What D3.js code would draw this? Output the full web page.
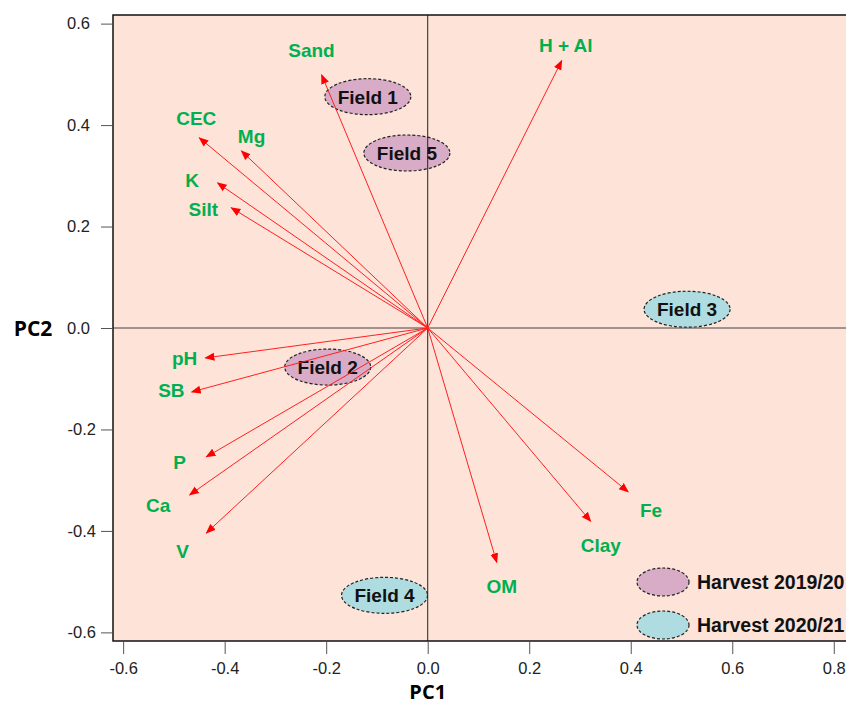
<!-- PCA biplot: soil attributes vs fields -->
<!DOCTYPE html>
<html>
<head>
<meta charset="utf-8">
<style>
  body { margin: 0; background: #fff; }
  svg { display: block; font-family: "Liberation Sans", Arial, sans-serif; }
</style>
</head>
<body>
<svg width="846" height="704"></svg>
<script src="https://d3js.org/d3.v7.min.js"></script>
<script>
// loadings (arrow tips)
const vars   = ["Sand", "H + Al", "CEC", "Mg", "K", "Silt", "pH", "SB", "P", "Ca", "V", "OM", "Clay", "Fe"];
const pc1    = [-0.209, 0.264, -0.450, -0.367, -0.414, -0.387, -0.438, -0.465, -0.436, -0.469, -0.436, 0.136, 0.321, 0.395];
const pc2    = [0.499, 0.527, 0.375, 0.349, 0.286, 0.237, -0.059, -0.126, -0.254, -0.329, -0.404, -0.462, -0.381, -0.323];
// where each variable name sits (in PC units)
const labPc1 = [-0.229, 0.272, -0.456, -0.347, -0.464, -0.442, -0.479, -0.505, -0.489, -0.531, -0.483, 0.146, 0.341, 0.440];
const labPc2 = [0.548, 0.558, 0.414, 0.379, 0.292, 0.235, -0.059, -0.122, -0.264, -0.349, -0.440, -0.509, -0.428, -0.359];

// field scores
const fields    = ["Field 1", "Field 5", "Field 3", "Field 2", "Field 4"];
const fieldPc1  = [-0.118, -0.041, 0.511, -0.197, -0.085];
const fieldPc2  = [0.456, 0.345, 0.037, -0.077, -0.527];
const fieldYear = ["Harvest 2019/20", "Harvest 2019/20", "Harvest 2020/21", "Harvest 2019/20", "Harvest 2020/21"];

const harvests = ["Harvest 2019/20", "Harvest 2020/21"];
const xTicks = [-0.6, -0.4, -0.2, 0.0, 0.2, 0.4, 0.6, 0.8];
const yTicks = [-0.6, -0.4, -0.2, 0.0, 0.2, 0.4, 0.6];

const svg = d3.select("svg");
const pLeft = 113, pTop = 15, pBottom = 641, pRight = 849;

const x = d3.scaleLinear().domain([-0.62, 0.83]).range([pLeft, pRight]);
const y = d3.scaleLinear().domain([-0.617, 0.617]).range([pBottom, pTop]);
const color = d3.scaleOrdinal().domain(harvests).range(["#d8abc7", "#afdce0"]);
const fmt = d => (Math.abs(d) < 1e-9 ? 0 : d).toFixed(1);

// panel
svg.append("rect").attr("x", pLeft).attr("y", pTop)
  .attr("width", pRight - pLeft).attr("height", pBottom - pTop)
  .attr("fill", "#fde3d8");

// field ellipses
const fg = svg.append("g").selectAll("g").data(fields).join("g")
  .attr("transform", (d, i) => `translate(${x(fieldPc1[i])},${y(fieldPc2[i])})`);
fg.append("ellipse").attr("rx", 43).attr("ry", 18)
  .attr("fill", (d, i) => color(fieldYear[i]))
  .attr("stroke", "#222").attr("stroke-width", 1.2).attr("stroke-dasharray", "3,2");
fg.append("text").text(d => d)
  .attr("text-anchor", "middle").attr("dy", "0.36em")
  .attr("font-size", 19).attr("font-weight", "bold").attr("fill", "#111");

// zero lines
svg.append("line").attr("x1", x(0)).attr("x2", x(0)).attr("y1", pTop).attr("y2", pBottom)
  .attr("stroke", "#222").attr("stroke-width", 1);
svg.append("line").attr("x1", pLeft).attr("x2", pRight).attr("y1", y(0)).attr("y2", y(0))
  .attr("stroke", "#444").attr("stroke-width", 1);

// arrows
svg.append("defs").append("marker")
  .attr("id", "head").attr("viewBox", "0 0 10 10")
  .attr("refX", 9).attr("refY", 5)
  .attr("markerWidth", 10).attr("markerHeight", 10)
  .attr("markerUnits", "userSpaceOnUse")
  .attr("orient", "auto")
  .append("path").attr("d", "M0,1 L10,5 L0,9 Z").attr("fill", "#ff0000");

svg.append("g").selectAll("line").data(vars).join("line")
  .attr("x1", x(0)).attr("y1", y(0))
  .attr("x2", (d, i) => x(pc1[i])).attr("y2", (d, i) => y(pc2[i]))
  .attr("stroke", "#ff2020").attr("stroke-width", 1)
  .attr("marker-end", "url(#head)");

svg.append("g").selectAll("text").data(vars).join("text")
  .attr("x", (d, i) => x(labPc1[i])).attr("y", (d, i) => y(labPc2[i]))
  .attr("text-anchor", "middle").attr("dy", "0.36em")
  .attr("font-size", 19).attr("font-weight", "bold").attr("fill", "#00b050")
  .text(d => d);

// legend
const lg = svg.append("g").selectAll("g").data(harvests).join("g")
  .attr("transform", (d, i) => `translate(663,${582 + i * 43})`);
lg.append("ellipse").attr("rx", 26).attr("ry", 14)
  .attr("fill", d => color(d))
  .attr("stroke", "#222").attr("stroke-width", 1.2).attr("stroke-dasharray", "3,2");
lg.append("text").attr("x", 34).attr("dy", "0.36em")
  .attr("font-size", 19.5).attr("font-weight", "bold").attr("fill", "#111")
  .text(d => d);

// frame
svg.append("path")
  .attr("d", `M${pRight},${pTop} H${pLeft} V${pBottom} H${pRight}`)
  .attr("fill", "none").attr("stroke", "#111").attr("stroke-width", 1.5);

// axes
const ax = svg.append("g").attr("transform", `translate(0,${pBottom + 1})`)
  .call(d3.axisBottom(x).tickValues(xTicks).tickFormat(fmt).tickSize(12).tickPadding(8));
const ay = svg.append("g").attr("transform", `translate(${pLeft - 1},0)`)
  .call(d3.axisLeft(y).tickValues(yTicks).tickFormat(fmt).tickSize(11).tickPadding(8));
[ax, ay].forEach(g => {
  g.select(".domain").remove();
  g.selectAll(".tick line").attr("stroke", "#555");
  g.selectAll(".tick text").attr("font-size", 16.5).attr("fill", "#222")
    .attr("font-family", "'Liberation Sans', Arial, sans-serif");
});
ay.selectAll(".tick text").attr("dx", d => d < 0 ? 3 : -3);

// axis titles
svg.append("text").attr("x", x(0)).attr("y", 699)
  .attr("text-anchor", "middle").attr("font-size", 20).attr("font-weight", "bold")
  .attr("font-family", "'Open Sans', sans-serif").text("PC1");
svg.append("text").attr("x", 33).attr("y", y(0)).attr("dy", "0.36em")
  .attr("text-anchor", "middle").attr("font-size", 21).attr("font-weight", "bold")
  .attr("font-family", "'Open Sans', sans-serif").text("PC2");
</script>
</body>
</html>
